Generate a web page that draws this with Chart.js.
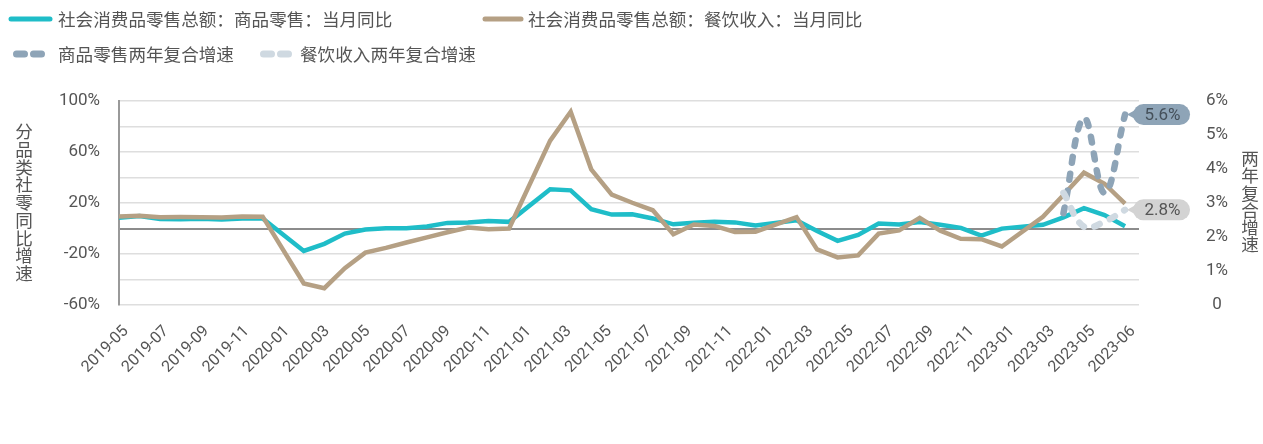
<!DOCTYPE html>
<html lang="zh-CN">
<head>
<meta charset="utf-8">
<title>社会消费品零售总额：分品类同比</title>
<script src="https://cdn.jsdelivr.net/npm/chart.js@4.4.0/dist/chart.umd.min.js"></script>
<style>
  html, body { margin: 0; padding: 0; background: #fff; }
</style>
</head>
<body>
<canvas id="chart" width="1263" height="444"></canvas>
<script>
// monthly categories (Jan is merged into Jan-Feb, so January has no value)
const months = [
  '2019-05','2019-06','2019-07','2019-08','2019-09','2019-10','2019-11','2019-12',
  '2020-01','2020-02','2020-03','2020-04','2020-05','2020-06','2020-07','2020-08',
  '2020-09','2020-10','2020-11','2020-12','2021-01','2021-02','2021-03','2021-04',
  '2021-05','2021-06','2021-07','2021-08','2021-09','2021-10','2021-11','2021-12',
  '2022-01','2022-02','2022-03','2022-04','2022-05','2022-06','2022-07','2022-08',
  '2022-09','2022-10','2022-11','2022-12','2023-01','2023-02','2023-03','2023-04',
  '2023-05','2023-06'
];

// labels printed under the axis
const xTickLabels = [
  '2019-05','2019-07','2019-09','2019-11','2020-01','2020-03','2020-05','2020-07',
  '2020-09','2020-11','2021-01','2021-03','2021-05','2021-07','2021-09','2021-11',
  '2022-01','2022-03','2022-05','2022-07','2022-09','2022-11','2023-01','2023-03',
  '2023-05','2023-06'
];

// 社会消费品零售总额：商品零售：当月同比 (%)
const goodsYoY = [
  8.5, 9.8, 7.4, 7.3, 7.6, 7.0, 7.8, 7.9,
  null, -17.6, -12.0, -4.0, -0.8, 0.2, 0.2, 1.5,
  4.4, 4.7, 5.8, 5.2, null, 30.7, 29.9, 15.1,
  10.9, 11.2, 7.9, 3.3, 4.5, 5.2, 4.8, 2.3,
  null, 6.5, -1.9, -9.7, -5.0, 3.9, 3.2, 5.1,
  3.0, 0.5, -5.6, -0.1, null, 2.9, 8.7, 15.9,
  10.5, 1.7
];

// 社会消费品零售总额：餐饮收入：当月同比 (%)
const cateringYoY = [
  9.4, 10.0, 8.9, 9.0, 8.9, 8.6, 9.4, 9.3,
  null, -43.1, -46.8, -31.1, -18.9, -15.2, -11.0, -7.0,
  -2.9, 0.8, -0.6, 0.0, null, 68.9, 91.6, 46.4,
  26.6, 20.2, 14.3, -4.5, 3.1, 2.0, -2.7, -2.5,
  null, 8.9, -16.4, -22.7, -21.1, -4.0, -1.5, 8.4,
  -1.7, -8.1, -8.4, -14.1, null, 9.2, 26.3, 43.8,
  35.1, 19.5
];

// two-year compound growth, right axis (%), only the last four months
const goodsTwoYear = [
  null, null, null, null, null, null, null, null, null, null,
  null, null, null, null, null, null, null, null, null, null,
  null, null, null, null, null, null, null, null, null, null,
  null, null, null, null, null, null, null, null, null, null,
  null, null, null, null, null, null, 2.7, 5.5, 3.3, 5.6
];
const cateringTwoYear = [
  null, null, null, null, null, null, null, null, null, null,
  null, null, null, null, null, null, null, null, null, null,
  null, null, null, null, null, null, null, null, null, null,
  null, null, null, null, null, null, null, null, null, null,
  null, null, null, null, null, null, 3.3, 2.3, 2.45, 2.8
];

const FONT_CJK = '"Noto Sans CJK SC", "Noto Sans", sans-serif';
const FONT_NUM = 'Roboto, "Liberation Sans", sans-serif';
const TEXT = '#555555';

const CYAN = '#1fbdc8';
const BROWN = '#b5a084';
const SLATE = '#8ea4b7';
const MIST = '#cfd9e1';

const toXY = arr => arr.map((v, i) => ({ x: i, y: v }));

// legend, stacked axis titles
const decor = {
  id: 'decor',
  afterDraw(chart) {
    const ctx = chart.ctx;
    ctx.save();

    const solid = (x1, x2, y, color) => {
      ctx.strokeStyle = color; ctx.lineWidth = 5; ctx.lineCap = 'round';
      ctx.beginPath(); ctx.moveTo(x1, y); ctx.lineTo(x2, y); ctx.stroke();
    };
    const pills = (x, y, color) => {
      ctx.strokeStyle = color; ctx.lineWidth = 7; ctx.lineCap = 'round';
      ctx.beginPath(); ctx.moveTo(x, y); ctx.lineTo(x + 8, y);
      ctx.moveTo(x + 17, y); ctx.lineTo(x + 25, y); ctx.stroke();
    };

    solid(11, 50, 19, CYAN);
    solid(485, 521, 19, BROWN);
    pills(16.5, 54, SLATE);
    pills(263.5, 54, MIST);

    ctx.fillStyle = TEXT;
    ctx.font = `17.6px ${FONT_CJK}`;
    ctx.textAlign = 'left';
    ctx.textBaseline = 'middle';
    ctx.fillText('社会消费品零售总额：商品零售：当月同比', 58, 19);
    ctx.fillText('社会消费品零售总额：餐饮收入：当月同比', 528, 19);
    ctx.fillText('商品零售两年复合增速', 58, 54);
    ctx.fillText('餐饮收入两年复合增速', 300, 54);

    // vertical titles, one upright character per line
    const vText = (str, cx, cy, step) => {
      const chars = Array.from(str);
      const y0 = cy - (chars.length - 1) * step / 2;
      ctx.textAlign = 'center';
      chars.forEach((c, i) => ctx.fillText(c, cx, y0 + i * step));
    };
    vText('分品类社零同比增速', 24, 202.5, 17.7);
    vText('两年复合增速', 1250, 201.5, 17.2);

    ctx.restore();
  },
  afterDatasetsDraw(chart) {
    // value boxes at the end of the dashed lines
    const ctx = chart.ctx;
    const boxes = [
      { index: 0, fill: SLATE, color: '#45505a' },
      { index: 1, fill: '#d3d3d3', color: '#555555' }
    ];
    ctx.save();
    boxes.forEach(b => {
      const meta = chart.getDatasetMeta(b.index);
      const pts = chart.data.datasets[b.index].data;
      const last = meta.data[pts.length - 1];
      const val = pts[pts.length - 1].y;
      const x = last.x, y = last.y;
      const bx = x + 8, bw = 57, bh = 21;
      ctx.fillStyle = b.fill;
      ctx.beginPath();
      ctx.moveTo(x + 2, y);
      ctx.lineTo(bx + 5, y - 6);
      ctx.lineTo(bx + 5, y + 6);
      ctx.closePath();
      ctx.fill();
      ctx.beginPath();
      ctx.roundRect(bx, y - bh / 2, bw, bh, bh / 2);
      ctx.fill();
      ctx.fillStyle = b.color;
      ctx.font = `17px ${FONT_NUM}`;
      ctx.textAlign = 'center';
      ctx.textBaseline = 'middle';
      ctx.fillText(val.toFixed(1) + '%', bx + bw / 2 + 1, y + 1);
    });
    ctx.restore();
  }
};

new Chart(document.getElementById('chart'), {
  type: 'line',
  data: {
    datasets: [
      {
        label: '商品零售两年复合增速',
        data: toXY(goodsTwoYear),
        yAxisID: 'y1',
        borderColor: SLATE,
        borderWidth: 6.5,
        borderDash: [6, 11],
        borderCapStyle: 'round',
        tension: 0.4,
        pointRadius: 0,
        order: 1
      },
      {
        label: '餐饮收入两年复合增速',
        data: toXY(cateringTwoYear),
        yAxisID: 'y1',
        borderColor: MIST,
        borderWidth: 6.5,
        borderDash: [6, 11],
        borderCapStyle: 'round',
        tension: 0.4,
        pointRadius: 0,
        order: 0
      },
      {
        label: '社会消费品零售总额：餐饮收入：当月同比',
        data: toXY(cateringYoY),
        yAxisID: 'y',
        borderColor: BROWN,
        borderWidth: 4.5,
        spanGaps: true,
        pointRadius: 0,
        order: 2
      },
      {
        label: '社会消费品零售总额：商品零售：当月同比',
        data: toXY(goodsYoY),
        yAxisID: 'y',
        borderColor: CYAN,
        borderWidth: 4.5,
        spanGaps: true,
        pointRadius: 0,
        order: 3
      }
    ]
  },
  options: {
    responsive: false,
    animation: false,
    layout: { padding: { top: 101, left: 0, right: 0, bottom: 0 } },
    plugins: {
      legend: { display: false },
      tooltip: {
        callbacks: {
          title: items => months[items[0].raw.x]
        }
      }
    },
    scales: {
      x: {
        type: 'linear',
        display: false,
        min: 0,
        max: 49.68
      },
      xl: {
        type: 'linear',
        position: 'bottom',
        min: -0.174,
        max: 25.15,
        afterBuildTicks: s => { s.ticks = xTickLabels.map((_, i) => ({ value: i })); },
        afterFit: s => { s.height = 139; },
        grid: { display: false },
        border: { display: false },
        ticks: {
          autoSkip: false,
          minRotation: 45,
          maxRotation: 45,
          padding: 9,
          color: TEXT,
          font: { family: FONT_NUM, size: 16 },
          callback: v => xTickLabels[v]
        }
      },
      y: {
        position: 'left',
        min: -60,
        max: 100,
        afterFit: s => { s.width = 119; },
        border: { display: true, color: '#999999', width: 2 },
        grid: {
          drawTicks: false,
          lineWidth: ctx => (ctx.tick && ctx.tick.value === 0 ? 2 : 1.5),
          color: ctx => (ctx.tick && ctx.tick.value === 0 ? '#8c8c8c' : '#dedede')
        },
        ticks: {
          stepSize: 20,
          padding: 19,
          color: TEXT,
          font: { family: FONT_NUM, size: 17 },
          callback: v => ((v + 60) % 40 === 0 ? v + '%' : '')
        }
      },
      y1: {
        position: 'right',
        min: 0,
        max: 6,
        afterFit: s => { s.width = 124; },
        border: { display: false },
        grid: { drawOnChartArea: false, drawTicks: false },
        ticks: {
          stepSize: 1,
          padding: 67,
          crossAlign: 'center',
          color: TEXT,
          font: { family: FONT_NUM, size: 17 },
          callback: v => (v === 0 ? '0' : v + '%')
        }
      }
    }
  },
  plugins: [decor]
});
</script>
</body>
</html>
